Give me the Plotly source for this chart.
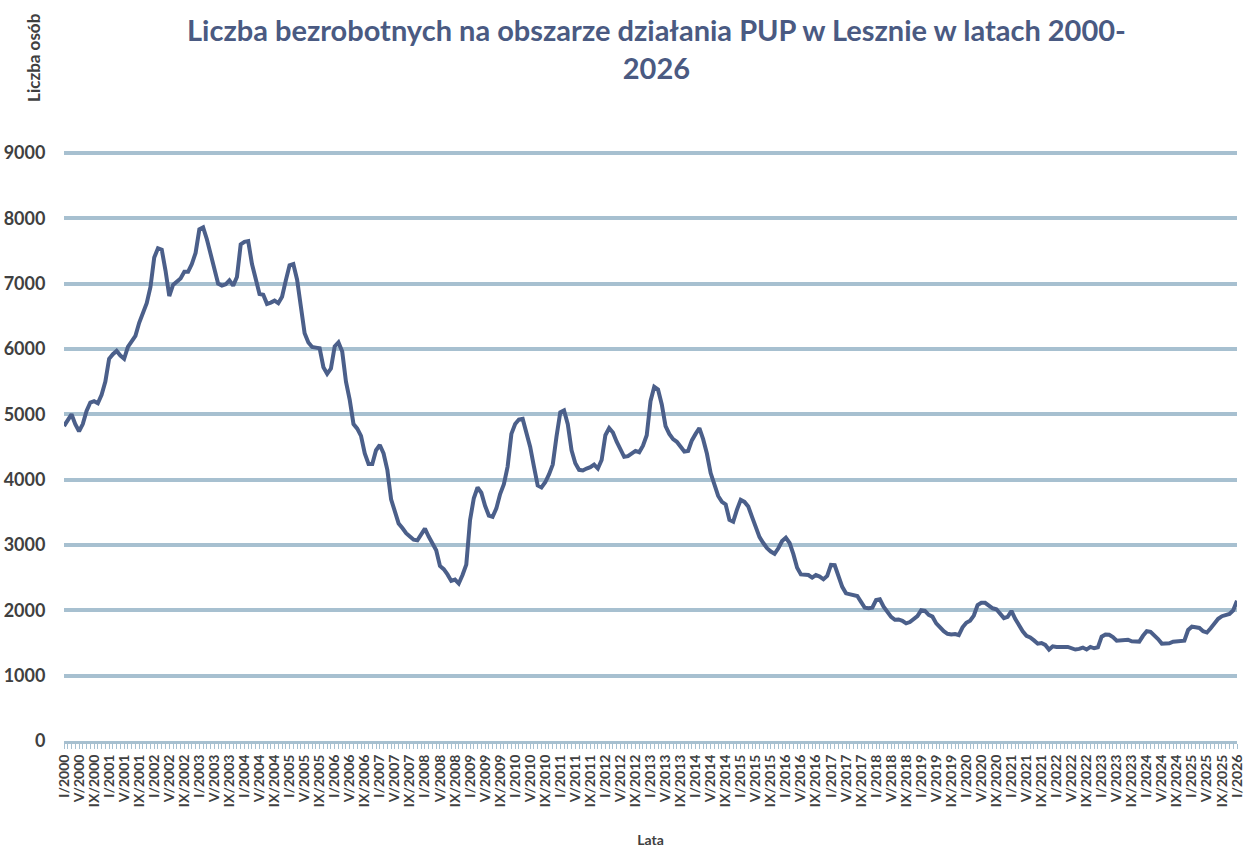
import plotly.graph_objects as go

roman = ["I", "II", "III", "IV", "V", "VI", "VII", "VIII", "IX", "X", "XI", "XII"]
years = list(range(2000, 2026))
months = [f"{r}/{y}" for y in years for r in roman] + ["I/2026"]

values = (
    [4820, 4900, 5000, 4850, 4740, 4850, 5050, 5180, 5200, 5170, 5300, 5500] +   # 2000
    [5850, 5920, 5970, 5900, 5850, 6030, 6120, 6200, 6400, 6550, 6700, 6950] +   # 2001
    [7400, 7540, 7520, 7200, 6810, 6980, 7040, 7080, 7180, 7180, 7300, 7470] +   # 2002
    [7830, 7860, 7680, 7450, 7230, 7000, 6970, 6990, 7050, 6970, 7100, 7600] +   # 2003
    [7640, 7650, 7300, 7050, 6840, 6830, 6690, 6710, 6740, 6700, 6800, 7050] +   # 2004
    [7280, 7300, 7060, 6650, 6240, 6100, 6030, 6020, 6010, 5720, 5620, 5700] +   # 2005
    [6040, 6100, 5960, 5500, 5220, 4850, 4780, 4670, 4400, 4240, 4240, 4450] +   # 2006
    [4530, 4400, 4150, 3700, 3500, 3330, 3260, 3180, 3130, 3080, 3070, 3150] +   # 2007
    [3250, 3130, 3010, 2920, 2680, 2630, 2550, 2450, 2470, 2410, 2540, 2700] +   # 2008
    [3380, 3715, 3880, 3800, 3600, 3450, 3430, 3560, 3780, 3930, 4200, 4700] +   # 2009
    [4850, 4920, 4930, 4700, 4500, 4200, 3910, 3880, 3960, 4080, 4230, 4660] +   # 2010
    [5030, 5060, 4850, 4450, 4250, 4150, 4140, 4170, 4190, 4230, 4170, 4300] +   # 2011
    [4680, 4790, 4720, 4580, 4450, 4350, 4360, 4410, 4440, 4420, 4520, 4680] +   # 2012
    [5200, 5420, 5380, 5150, 4820, 4700, 4620, 4580, 4500, 4430, 4440, 4600] +   # 2013
    [4700, 4790, 4620, 4400, 4100, 3900, 3750, 3660, 3620, 3383, 3357, 3540] +   # 2014
    [3690, 3660, 3590, 3430, 3250, 3120, 3030, 2950, 2900, 2865, 2950, 3060] +   # 2015
    [3110, 3030, 2860, 2650, 2550, 2540, 2540, 2500, 2540, 2516, 2475, 2526] +   # 2016
    [2694, 2690, 2520, 2360, 2260, 2245, 2240, 2220, 2130, 2040, 2031, 2040] +   # 2017
    [2158, 2168, 2056, 1970, 1900, 1855, 1860, 1840, 1800, 1820, 1860, 1910] +   # 2018
    [2000, 1990, 1930, 1903, 1800, 1730, 1680, 1640, 1630, 1638, 1622, 1740] +   # 2019
    [1810, 1840, 1920, 2080, 2115, 2115, 2080, 2031, 2016, 1940, 1880, 1900] +   # 2020
    [1990, 1870, 1760, 1680, 1610, 1585, 1540, 1490, 1500, 1470, 1400, 1450] +   # 2021
    [1440, 1434, 1440, 1440, 1419, 1400, 1410, 1430, 1400, 1440, 1419, 1434] +   # 2022
    [1597, 1630, 1625, 1590, 1536, 1545, 1550, 1550, 1526, 1522, 1521, 1610] +   # 2023
    [1680, 1670, 1620, 1560, 1490, 1490, 1495, 1520, 1530, 1536, 1536, 1699] +   # 2024
    [1750, 1740, 1730, 1680, 1660, 1725, 1790, 1870, 1910, 1925, 1945, 2000] +   # 2025
    [2148]                                                                        # 2026
)

y_ticks = [0, 1000, 2000, 3000, 4000, 5000, 6000, 7000, 8000, 9000]

x_idx = list(range(len(months)))
tick_idx = x_idx[::4]
tick_txt = months[::4]

line_color = "#4b5f8a"
grid_color = "#a7c0d0"
text_color = "#404040"
font_family = "Lato, 'Open Sans', sans-serif"

fig = go.Figure()
fig.add_trace(go.Scatter(
    x=x_idx, y=values, mode="lines",
    line=dict(color=line_color, width=4),
    hoverinfo="skip", showlegend=False,
))

fig.update_layout(
    width=1254, height=850,
    paper_bgcolor="white", plot_bgcolor="white",
    margin=dict(l=64, r=17, t=150, b=109),
    font=dict(family=font_family, color=text_color),
    xaxis=dict(
        range=[0, len(months) - 1],
        tickmode="array", tickvals=tick_idx,
        ticktext=[f"<b>{t}</b>" for t in tick_txt],
        tickangle=-90,
        tickfont=dict(size=14, color=text_color, family=font_family),
        showgrid=False, zeroline=False, automargin=False,
        showline=True, linecolor=grid_color, linewidth=3,
        ticks="outside", ticklen=5, tickcolor=grid_color, tickwidth=1,
        minor=dict(dtick=1, tick0=0, ticks="outside", ticklen=5,
                   tickcolor=grid_color, tickwidth=1, showgrid=False),
        title=dict(text="<b>Lata</b>", font=dict(size=14, color=text_color), standoff=30),
    ),
    yaxis=dict(
        range=[0, 9045],
        tickmode="array", tickvals=y_ticks,
        ticktext=[f"<b>{v}</b>" for v in y_ticks],
        tickfont=dict(size=18, color=text_color, family=font_family),
        showgrid=True, gridcolor=grid_color, gridwidth=3.5,
        zeroline=False, showline=False, automargin=False,
        ticks="outside", ticklen=14, tickcolor="rgba(0,0,0,0)",
    ),
)

fig.add_annotation(
    text="<b>Liczba bezrobotnych na obszarze działania PUP w Lesznie w latach 2000-<br>2026</b>",
    xref="paper", yref="paper", x=0.5055, y=1.237,
    xanchor="center", yanchor="top", showarrow=False, align="center",
    font=dict(size=29, color="#4a5a82", family=font_family),
)

fig.add_annotation(
    text="<b>Liczba osób</b>", textangle=-90,
    xref="paper", yref="paper", x=-0.0265, y=1.236,
    xanchor="center", yanchor="top", showarrow=False,
    font=dict(size=17, color=text_color, family=font_family),
)

fig.write_html("out.html", config={"displayModeBar": False},
               post_script="document.body.style.margin='0';")
